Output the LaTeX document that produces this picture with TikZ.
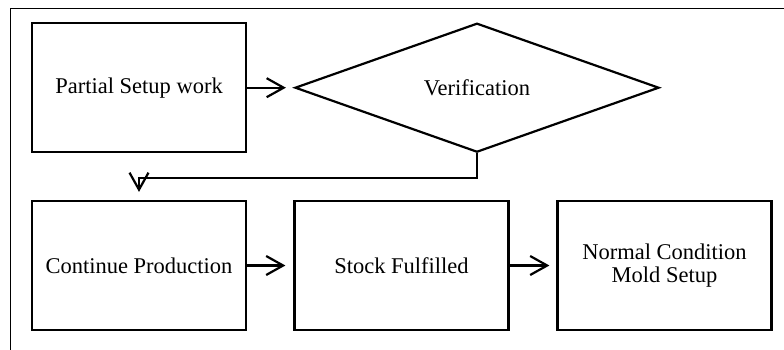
\documentclass[tikz,border=0pt]{standalone}
\usepackage{fontspec}
\setmainfont{Liberation Serif}
\newfontfamily\diagfont{Liberation Serif}
\usetikzlibrary{shapes.geometric,arrows.meta}
\begin{document}
\begin{tikzpicture}[x=1pt,y=-1pt,
  box/.style={draw,line width=2.2pt,minimum width=214pt,minimum height=129pt,inner sep=0pt,align=center,
    font=\diagfont\fontsize{22.5}{23.5}\selectfont},
  dia/.style={draw,diamond,line width=2.2pt,minimum width=364pt,minimum height=129pt,aspect=2.82,inner sep=0pt,
    font=\diagfont\fontsize{22.5}{23.5}\selectfont},
  arr/.style={line width=2.2pt,-{Straight Barb[length=17pt,width=19pt]}}]
\useasboundingbox (0,0) rectangle (784,349);
\draw[line width=1pt] (10,350) -- (10,8) -- (785,8);
\node[box] (b1) at (139,87.7) {Partial Setup work};
\node[dia] (v) at (477,87.7) {Verification};
\node[box] (b2) at (139,265.5) {Continue Production};
\node[box] (b3) at (401.5,265.5) {Stock Fulfilled};
\node[box] (b4) at (664.5,265.5) {Normal Condition\\Mold Setup};
\draw[arr,shorten >=8pt] (b1.east) -- (v.west);
\draw[arr,shorten >=8pt] (v.south) -- ++(0,25) -| (b2.north);
\draw[arr,shorten >=8pt] (b2.east) -- (b3.west);
\draw[arr,shorten >=7pt] (b3.east) -- (b4.west);
\end{tikzpicture}
\end{document}
